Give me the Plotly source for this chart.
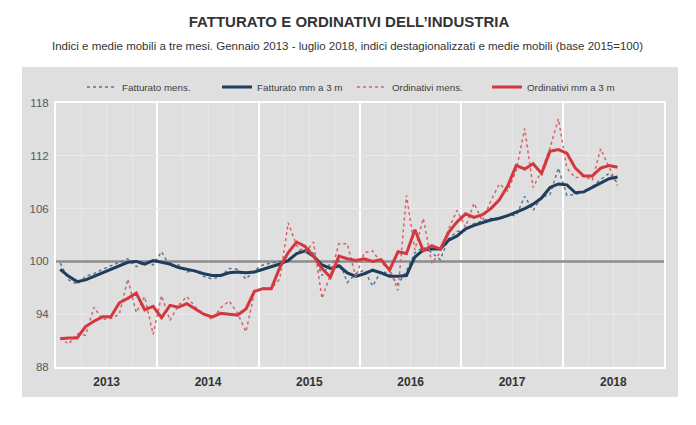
import plotly.graph_objects as go

# ---------------- data (monthly, Jan 2013 - Jul 2018) ----------------
years = ["2013", "2014", "2015", "2016", "2017", "2018"]
y_ticks = [88, 94, 100, 106, 112, 118]
base_value = 100

fatt_mens = [
    99.8, 97.9, 97.4, 98.3, 98.6, 99.1, 99.5, 99.9, 100.3, 99.4, 99.9, 99.6,
    101.1, 99.4, 99.6, 98.8, 99.0, 98.3, 98.0, 98.3, 99.2, 99.1, 98.0, 99.0,
    99.6, 99.8, 100.0, 100.1, 101.0, 101.8, 100.9, 98.4, 99.8, 100.1, 97.6, 98.6,
    99.0, 97.2, 98.9, 98.6, 97.4, 98.9, 101.0, 101.6, 101.0, 100.2, 102.6, 103.4,
    103.5, 104.3, 104.6, 104.9, 104.7, 105.3, 105.2, 107.4, 105.8, 107.3, 107.6, 110.6,
    107.5, 107.6, 107.9, 108.5, 109.3, 110.0, 108.9,
]
fatt_mm = [
    99.1, 98.3, 97.7, 97.9, 98.3, 98.7, 99.1, 99.5, 99.9, 100.0, 99.7, 100.1,
    99.9, 99.7, 99.3, 99.1, 98.9, 98.6, 98.4, 98.4, 98.7, 98.8, 98.7, 98.8,
    99.1, 99.4, 99.7, 100.1, 100.9, 101.2, 100.6, 99.6, 99.2, 99.5, 98.7, 98.3,
    98.6, 99.0, 98.7, 98.3, 98.3, 98.4, 100.5, 101.3, 101.4, 101.4, 102.4, 102.9,
    103.7, 104.1, 104.4, 104.7, 104.9, 105.2, 105.6, 106.0, 106.5, 107.2, 108.4, 108.8,
    108.7, 107.8, 107.9, 108.4, 108.9, 109.4, 109.6,
]
ord_mens = [
    91.3, 90.6, 91.8, 91.6, 94.8, 93.4, 93.5, 94.0, 98.0, 94.2, 96.0, 91.7,
    96.1, 93.3, 95.0, 96.0, 94.8, 94.0, 93.4, 94.7, 95.5, 94.1, 92.0, 96.5,
    97.0, 96.9, 98.0, 104.4, 101.8, 101.0, 102.2, 95.8, 98.5, 102.0, 102.0, 98.2,
    101.0, 101.2, 99.8, 99.2, 96.7, 107.5, 101.3, 104.9, 99.8, 101.0, 103.7, 105.8,
    103.9, 106.6, 104.6, 106.9, 108.8, 108.0, 110.3, 115.1, 108.4, 110.3, 112.9, 116.2,
    110.6, 109.5, 109.7, 109.2, 112.8, 110.6, 108.6,
]
ord_mm = [
    91.2, 91.3, 91.3, 92.6, 93.2, 93.7, 93.7, 95.3, 95.8, 96.4, 94.5, 94.9,
    93.6, 95.0, 94.8, 95.2, 94.6, 94.0, 93.7, 94.1, 94.0, 93.9, 94.6, 96.6,
    96.9, 96.9, 99.3, 101.0, 102.2, 101.7, 100.6, 99.2, 98.2, 100.6, 100.3, 100.1,
    100.3, 100.0, 100.2, 99.0, 101.1, 100.9, 103.6, 101.2, 101.8, 101.4, 103.3, 104.5,
    105.4, 105.0, 105.3, 106.0, 107.0, 108.6, 110.9, 110.5, 111.1, 110.0, 112.5, 112.7,
    112.3, 110.6, 109.7, 109.7, 110.6, 110.9, 110.7,
]

# month positions (centre of each month, Jan 2013 = 0)
months = [i + 0.5 for i in range(len(fatt_mm))]
n_total = 12 * len(years)
year_bounds = list(range(0, n_total + 1, 12))
year_centres = [b + 6 for b in year_bounds[:-1]]
quarters = [q for q in range(3, n_total, 3) if q % 12 != 0]

FONT = "Liberation Sans, Arial, sans-serif"
BLUE = "#1f3d5c"
BLUE_DOT = "#5a7594"
RED = "#d5373f"
RED_DOT = "#d4636a"
PANEL = "#dfdfdf"

fig = go.Figure()
# reference line at base 100 (drawn first, under the series)
fig.add_trace(go.Scatter(x=[0, n_total], y=[base_value, base_value], mode="lines",
                         showlegend=False, hoverinfo="skip",
                         line=dict(color="#8c8c8c", width=2.5)))
fig.add_trace(go.Scatter(x=months, y=fatt_mens, mode="lines", name="Fatturato mens.",
                         line=dict(color=BLUE_DOT, width=1.5, dash="dot")))
fig.add_trace(go.Scatter(x=months, y=fatt_mm, mode="lines", name="Fatturato mm a 3 m",
                         line=dict(color=BLUE, width=3)))
fig.add_trace(go.Scatter(x=months, y=ord_mens, mode="lines", name="Ordinativi mens.",
                         line=dict(color=RED_DOT, width=1.5, dash="dot")))
fig.add_trace(go.Scatter(x=months, y=ord_mm, mode="lines", name="Ordinativi mm a 3 m",
                         line=dict(color=RED, width=3)))
# invisible trace for the year-label axis
fig.add_trace(go.Scatter(x=[year_centres[0]], y=[None], xaxis="x2", showlegend=False,
                         hoverinfo="skip", mode="lines"))

# the page body adds an 8px offset; work in page pixels and convert
OFF = 8
PAGE_W, PAGE_H = 696, 425
W, H = PAGE_W - OFF, PAGE_H - OFF
plot_l, plot_r, plot_t, plot_b = 56, 664, 103, 367   # page pixels
L = plot_l - OFF
R = PAGE_W - plot_r
T = plot_t - OFF
B = PAGE_H - plot_b
pw, ph = plot_r - plot_l, plot_b - plot_t


def px_to_paper_x(px):
    return (px - plot_l) / pw


def px_to_paper_y(py):
    return 1 - (py - plot_t) / ph


fig.update_layout(
    width=W, height=H,
    margin=dict(l=L, r=R, t=T, b=B, pad=0),
    paper_bgcolor="white",
    plot_bgcolor=PANEL,
    font=dict(family=FONT, color="#404040"),
    title=dict(text="<b>FATTURATO E ORDINATIVI DELL’INDUSTRIA</b>",
               x=(349 - OFF) / W, xref="container", xanchor="center",
               y=1 - (22 - OFF) / H, yref="container", yanchor="middle",
               font=dict(family=FONT, size=15, color="#333333")),
    showlegend=True,
    legend=dict(orientation="h", x=px_to_paper_x(82), y=px_to_paper_y(87),
                xanchor="left", yanchor="middle",
                font=dict(family=FONT, size=9.8, color="#404040"),
                bgcolor="rgba(0,0,0,0)", entrywidth=90, entrywidthmode="pixels"),
    xaxis=dict(range=[0, n_total], tickvals=year_bounds, showticklabels=False,
               showgrid=True, gridcolor="white", gridwidth=2, zeroline=False,
               showline=True, linecolor="white", linewidth=2, mirror=True,
               minor=dict(tickvals=quarters, showgrid=True, gridcolor="#e9e9e9", gridwidth=1),
               fixedrange=True),
    xaxis2=dict(range=[0, n_total], overlaying="x", anchor="y", side="bottom",
                tickvals=year_centres, ticktext=[f"<b>{y}</b>" for y in years],
                showgrid=False, zeroline=False, ticks="outside", ticklen=4,
                tickcolor="rgba(0,0,0,0)",
                tickfont=dict(family=FONT, size=12, color="#333333")),
    yaxis=dict(range=[88, 118], tickvals=y_ticks, showgrid=True, gridcolor="#e9e9e9",
               gridwidth=1, zeroline=False, showline=True, linecolor="white",
               linewidth=2, mirror=True, ticks="outside", ticklen=3,
               tickcolor="rgba(0,0,0,0)",
               tickfont=dict(family=FONT, size=11.5, color="#595959")),
    annotations=[dict(
        text="Indici e medie mobili a tre mesi. Gennaio 2013 - luglio 2018, indici destagionalizzati e medie mobili (base 2015=100)",
        xref="paper", yref="paper", x=px_to_paper_x(347), y=px_to_paper_y(46),
        xanchor="center", yanchor="middle", showarrow=False,
        font=dict(family=FONT, size=11.5, color="#333333"))],
    shapes=[
        dict(type="rect", xref="paper", yref="paper", layer="below",
             x0=px_to_paper_x(22), x1=px_to_paper_x(678),
             y0=px_to_paper_y(397), y1=px_to_paper_y(67),
             fillcolor=PANEL, line=dict(width=0)),
    ],
)

fig.write_html("out.html")
